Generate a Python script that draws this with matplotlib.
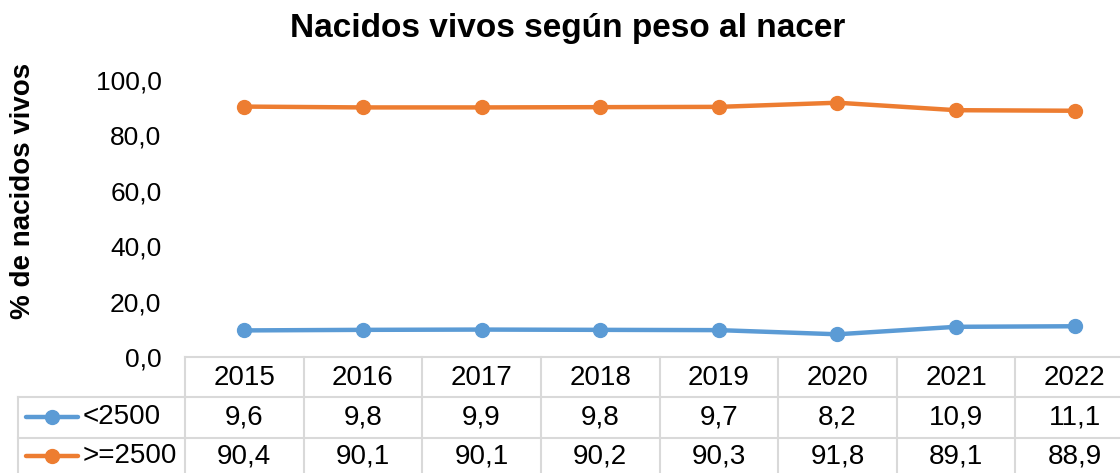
import matplotlib
matplotlib.use("Agg")
import matplotlib.pyplot as plt
from matplotlib.transforms import blended_transform_factory
from matplotlib.lines import Line2D

years = ["2015", "2016", "2017", "2018", "2019", "2020", "2021", "2022"]
series_names = ["<2500", ">=2500"]
low_weight = [9.6, 9.8, 9.9, 9.8, 9.7, 8.2, 10.9, 11.1]
normal_weight = [90.4, 90.1, 90.1, 90.2, 90.3, 91.8, 89.1, 88.9]
yticks = [0, 20, 40, 60, 80, 100]
colors = ["#5B9BD5", "#ED7D31"]

plt.rcParams['font.family'] = ['Liberation Sans', 'DejaVu Sans']

W, H = 1120, 473
fig = plt.figure(figsize=(W / 100, H / 100), dpi=100)

def fy(py):
    return 1 - py / H

def fx(px):
    return px / W

ax = fig.add_axes([fx(185), fy(357), fx(1134) - fx(185), fy(80) - fy(357)])
x = list(range(len(years)))
for vals, c in zip([low_weight, normal_weight], colors):
    ax.plot(x, vals, color=c, lw=3.2, marker='o', ms=10, solid_capstyle='round', clip_on=False)
ax.set_xlim(-0.5, len(years) - 0.5)
ax.set_ylim(0, 100)
ax.set_yticks(yticks)
ax.set_yticklabels([f"{v:.1f}".replace('.', ',') for v in yticks], fontsize=19)
ax.tick_params(axis='y', length=0, pad=17)
ax.set_xticks([])
for s in ax.spines.values():
    s.set_visible(False)

fig.text(fx(568), fy(28), "Nacidos vivos según peso al nacer", ha='center', va='center',
         fontsize=24, fontweight='bold')
fig.text(fx(23), fy(191), "% de nacidos vivos", rotation=90, ha='center', va='center',
         fontsize=20, fontweight='bold')

# data table
grid_c = "#D9D9D9"
trans = blended_transform_factory(ax.transData, fig.transFigure)
row_top = [357, 397, 438]
row_bot = 479
n = len(years)
for i, py in enumerate(row_top):
    if i > 0:
        fig.add_artist(Line2D([fx(18), fx(185)], [fy(py), fy(py)], transform=fig.transFigure, color=grid_c, lw=1.5))
    fig.add_artist(Line2D([-0.5, n - 0.5], [fy(py), fy(py)], transform=trans, color=grid_c, lw=1.5))
for i in range(n + 1):
    fig.add_artist(Line2D([i - 0.5, i - 0.5], [fy(357), fy(row_bot)], transform=trans, color=grid_c, lw=1.5))
fig.add_artist(Line2D([fx(18), fx(18)], [fy(397), fy(row_bot)], transform=fig.transFigure, color=grid_c, lw=1.5))

# header
for i, yr in enumerate(years):
    fig.text(0, fy(378), yr, transform=trans, fontsize=20, ha='center', va='center').set_x(i)
# rows
row_centers = [417, 456]
for r, (name, vals, c) in enumerate(zip(series_names, [low_weight, normal_weight], colors)):
    cy = fy(row_centers[r])
    fig.add_artist(Line2D([fx(26), fx(78)], [cy, cy], transform=fig.transFigure, color=c, lw=3.2,
                          solid_capstyle='round'))
    fig.add_artist(Line2D([fx(52)], [cy], transform=fig.transFigure, color=c, marker='o', ms=10))
    fig.text(fx(83), cy, name, fontsize=20, ha='left', va='center')
    for i, v in enumerate(vals):
        t = fig.text(0, cy, f"{v:.1f}".replace('.', ','), transform=trans, fontsize=20, ha='center', va='center')
        t.set_x(i)

fig.savefig("out.png", dpi=100)
